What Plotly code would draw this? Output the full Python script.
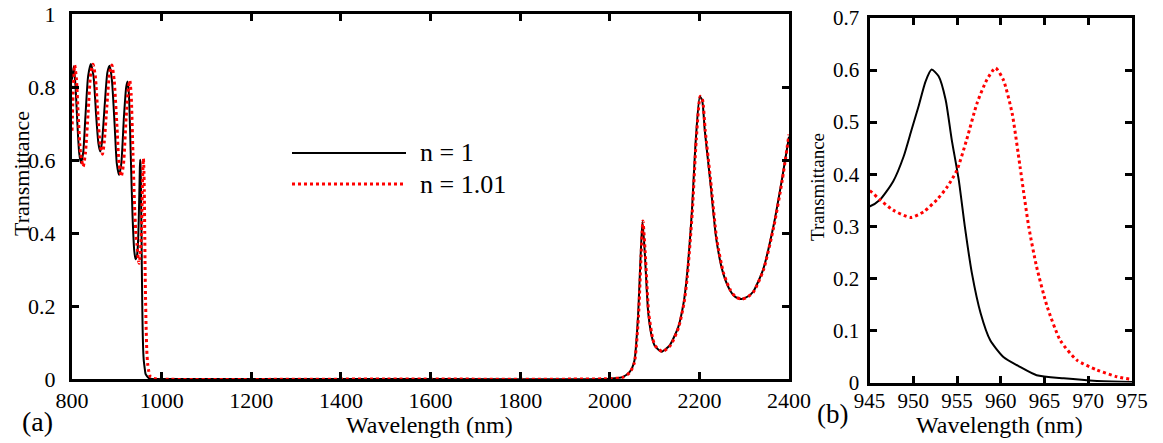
import plotly.graph_objects as go

# ---- data: n = 1 (black solid) ----
wl_n1 = [800, 804, 808, 812, 816, 820, 825, 830, 836, 842, 848, 854, 859, 863, 867,
         873, 879, 884, 889, 895, 900, 905, 910, 916, 921, 924, 927, 931, 935, 939,
         942, 945, 946.2, 947.7, 948.9, 949.8, 950.6, 951.4, 952.1, 952.9, 953.7,
         954.4, 955.2, 955.9, 956.7, 957.7, 958.8, 960.3, 962.2, 964.1, 967.2, 971,
         975, 985, 1000, 1500, 2000, 2030, 2045, 2055, 2063, 2069, 2073, 2078, 2086,
         2095, 2101, 2116, 2134, 2153, 2165, 2172, 2183, 2192, 2201, 2206, 2212,
         2224, 2238, 2253, 2268, 2280, 2294, 2308, 2320, 2342, 2365, 2384, 2400]
T_n1 = [0.82, 0.857, 0.80, 0.70, 0.62, 0.592, 0.62, 0.72, 0.83, 0.863, 0.83, 0.72,
        0.645, 0.623, 0.65, 0.75, 0.84, 0.858, 0.82, 0.70, 0.59, 0.559, 0.59, 0.72,
        0.80, 0.815, 0.78, 0.62, 0.45, 0.35, 0.328, 0.338, 0.351, 0.386, 0.434,
        0.485, 0.53, 0.578, 0.601, 0.588, 0.543, 0.466, 0.389, 0.299, 0.21, 0.133,
        0.081, 0.049, 0.030, 0.014, 0.008, 0.003, 0.001, 0.0, 0.0, 0.0, 0.001,
        0.006, 0.02, 0.05, 0.17, 0.34, 0.431, 0.35, 0.18, 0.11, 0.09, 0.075, 0.093,
        0.143, 0.21, 0.28, 0.454, 0.655, 0.773, 0.765, 0.682, 0.545, 0.381, 0.29,
        0.244, 0.225, 0.219, 0.226, 0.239, 0.299, 0.417, 0.545, 0.664]

# ---- data: n = 1.01 (red dotted) ----
wl_n101 = [800, 803, 806, 810, 814, 819, 825, 830, 836, 842, 847, 852, 858, 863, 868,
           872, 878, 884, 889, 894, 900, 905, 910, 915, 921, 926, 929, 932, 936, 940,
           943, 945, 946.2, 947.7, 949.7, 951.2, 952.7, 953.9, 955, 956.1, 957.3,
           958.4, 959.4, 960.3, 961.3, 962.2, 963.2, 964.1, 965.3, 966.8, 968.7, 971,
           973.3, 975, 982, 990, 1500, 2000, 2030, 2045, 2055, 2064, 2070, 2074, 2079,
           2087, 2096, 2102, 2118, 2136, 2154, 2166, 2173, 2184, 2193, 2202, 2207,
           2213, 2225, 2239, 2254, 2269, 2281, 2295, 2309, 2321, 2343, 2366, 2385, 2400]
T_n101 = [0.68, 0.80, 0.86, 0.82, 0.72, 0.62, 0.582, 0.62, 0.73, 0.84, 0.862, 0.83,
          0.72, 0.64, 0.616, 0.65, 0.75, 0.84, 0.86, 0.82, 0.70, 0.59, 0.555, 0.59,
          0.72, 0.80, 0.818, 0.78, 0.62, 0.46, 0.39, 0.369, 0.351, 0.331, 0.317,
          0.328, 0.351, 0.376, 0.408, 0.466, 0.537, 0.581, 0.604, 0.581, 0.517,
          0.415, 0.299, 0.222, 0.146, 0.081, 0.043, 0.024, 0.011, 0.006, 0.002, 0.0,
          0.0, 0.001, 0.005, 0.018, 0.045, 0.17, 0.34, 0.433, 0.35, 0.18, 0.11, 0.09,
          0.075, 0.093, 0.143, 0.21, 0.28, 0.454, 0.655, 0.775, 0.765, 0.682, 0.545,
          0.381, 0.29, 0.244, 0.225, 0.219, 0.226, 0.239, 0.299, 0.417, 0.545, 0.67]

series_names = ["n = 1", "n = 1.01"]
x_title = "Wavelength (nm)"
y_title = "Transmittance"
panel_labels = ["(a)", "(b)"]

W, H = 1163, 443
FONT = "Liberation Serif"

def px(x):
    return x / W

def py(y):
    return (H - y) / H

fig = go.Figure()
for xa, ya in [("x", "y"), ("x2", "y2")]:
    fig.add_trace(go.Scatter(x=wl_n1, y=T_n1, mode="lines", xaxis=xa, yaxis=ya,
                             line=dict(color="black", width=2, shape="spline", smoothing=0.6),
                             name=series_names[0], showlegend=False))
    fig.add_trace(go.Scatter(x=wl_n101, y=T_n101, mode="lines", xaxis=xa, yaxis=ya,
                             line=dict(color="#ff0000", width=3, dash="dot", shape="spline", smoothing=0.6),
                             name=series_names[1], showlegend=False))

def axis(**kw):
    d = dict(showline=True, linewidth=3, linecolor="black", mirror="ticks",
             ticks="inside", ticklen=7, tickwidth=3, tickcolor="black",
             showgrid=False, zeroline=False, automargin=False,
             tickfont=dict(family=FONT, size=22, color="black"))
    d.update(kw)
    return d

fig.update_layout(
    template="none",
    width=W, height=H, margin=dict(l=0, r=0, t=0, b=0, pad=0),
    paper_bgcolor="white", plot_bgcolor="white",
    font=dict(family=FONT, color="black"),
    xaxis=axis(domain=[px(72), px(789)], range=[800, 2400], dtick=200, anchor="y",
               ticklabelstandoff=0),
    yaxis=axis(domain=[py(379), py(14)], range=[0, 1], dtick=0.2, anchor="x",
               ticklabelstandoff=9),
    xaxis2=axis(domain=[px(869.5), px(1132)], range=[945, 975], dtick=5, anchor="y2",
                ticklabelstandoff=-3, tickfont=dict(family=FONT, size=21, color="black")),
    yaxis2=axis(domain=[py(382.5), py(18)], range=[0, 0.7], dtick=0.1, anchor="x2",
                ticklabelstandoff=3, tickfont=dict(family=FONT, size=21, color="black")),
    showlegend=False,
)

ann = []
def text(x, y, s, size, angle=0, xanchor="center"):
    ann.append(dict(x=px(x), y=py(y), xref="paper", yref="paper", text=s, showarrow=False,
                    textangle=angle, xanchor=xanchor, yanchor="middle",
                    font=dict(family=FONT, size=size, color="black")))

text(429, 425, x_title, 24)
text(999, 425, x_title, 24)
text(21, 174, y_title, 22, angle=-90)
text(817, 187, y_title, 19, angle=-90)
text(37, 421, panel_labels[0], 28)
text(832, 414, panel_labels[1], 27)
text(418, 152, series_names[0], 26, xanchor="left")
text(418, 184, series_names[1], 26, xanchor="left")
fig.update_layout(annotations=ann)

fig.add_shape(type="line", xref="paper", yref="paper", x0=px(292), x1=px(406),
              y0=py(153), y1=py(153), line=dict(color="black", width=2))
fig.add_shape(type="line", xref="paper", yref="paper", x0=px(292), x1=px(406),
              y0=py(184), y1=py(184), line=dict(color="#ff0000", width=3, dash="dot"))

fig.write_html("out.html")
